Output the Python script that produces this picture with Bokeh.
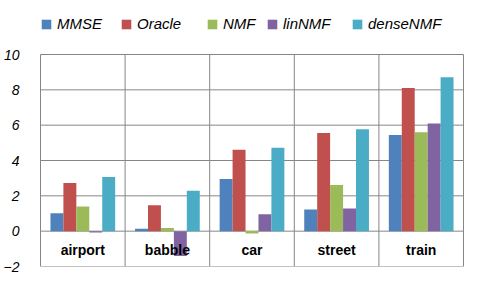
from bokeh.plotting import figure
from bokeh.models import FixedTicker, Legend, LegendItem, ColumnDataSource
from bokeh.core.properties import value
from bokeh.embed import file_html
from bokeh.resources import INLINE

categories = ["airport", "babble", "car", "street", "train"]
series_names = ["MMSE", "Oracle", "NMF", "linNMF", "denseNMF"]
mmse = [1.01, 0.13, 2.95, 1.23, 5.44]
oracle = [2.73, 1.46, 4.61, 5.55, 8.10]
nmf = [1.40, 0.18, -0.13, 2.62, 5.60]
linnmf = [-0.07, -1.40, 0.96, 1.29, 6.10]
densenmf = [3.06, 2.29, 4.72, 5.77, 8.71]
colors = ["#4F81BD", "#C0504D", "#9BBB59", "#8064A2", "#4BACC6"]
y_ticks = [-2, 0, 2, 4, 6, 8, 10]
legend_x = [1, 81, 167, 227, 312]

series = [mmse, oracle, nmf, linnmf, densenmf]
n = len(categories)
GRID = "#868686"

# frame: px 0..266 vertically (y=10 at px 54, y=-2 at px 266)
ymin, ymax = min(y_ticks), max(y_ticks)
px_per_unit = (266 - 54) / (ymax - ymin)
y_top = ymax + 54 / px_per_unit

p = figure(width=465, height=273, output_backend="svg", toolbar_location=None,
           x_range=(-0.012, n + 0.012), y_range=(ymin, y_top),
           min_border_left=38, min_border_right=1, min_border_top=0, min_border_bottom=7)
p.outline_line_color = None
p.background_fill_color = "white"
p.border_fill_color = "white"
p.xaxis.visible = False
p.xgrid.visible = False
p.ygrid.visible = False

ax = p.yaxis[0]
ax.ticker = FixedTicker(ticks=y_ticks)
ax.axis_line_color = None
ax.major_tick_line_color = None
ax.minor_tick_line_color = None
ax.major_label_standoff = 14
ax.major_label_text_font = "Liberation Sans"
ax.major_label_text_font_style = "italic"
ax.major_label_text_font_size = "14px"
ax.major_label_text_color = "black"

# grid lines of the plot box
p.segment(x0=[0] * len(y_ticks), x1=[n] * len(y_ticks), y0=y_ticks, y1=y_ticks,
          line_color=GRID, line_width=1)
p.segment(x0=list(range(n + 1)), x1=list(range(n + 1)), y0=[ymin] * (n + 1),
          y1=[ymax] * (n + 1), line_color=GRID, line_width=1)

bar_w = 0.153
renderers = []
for k, (vals, col) in enumerate(zip(series, colors)):
    xs = [i + 0.5 + (k - 2) * bar_w for i in range(n)]
    src = ColumnDataSource(dict(x=xs, top=vals))
    r = p.vbar(x="x", top="top", bottom=0, width=bar_w, source=src,
               fill_color=col, line_color=None)
    renderers.append(r)

lab_src = ColumnDataSource(dict(x=[i + 0.5 for i in range(n)],
                                y=[-1.06] * n, t=categories))
p.text(x="x", y="y", text="t", source=lab_src, text_align="center",
       text_baseline="alphabetic", text_font=value("Liberation Sans"),
       text_font_style="bold", text_font_size="14px", text_color="black")

for name, r, lx in zip(series_names, renderers, legend_x):
    leg = Legend(items=[LegendItem(label=name, renderers=[r])], location=(lx, 234),
                 glyph_width=12, glyph_height=12, label_standoff=5,
                 padding=0, margin=0, border_line_color=None,
                 background_fill_alpha=0, label_height=12,
                 label_text_font="Liberation Sans", label_text_font_style="italic",
                 label_text_font_size="15px", label_text_color="black")
    p.add_layout(leg, "center")

open("out.html", "w").write(file_html(p, INLINE))
